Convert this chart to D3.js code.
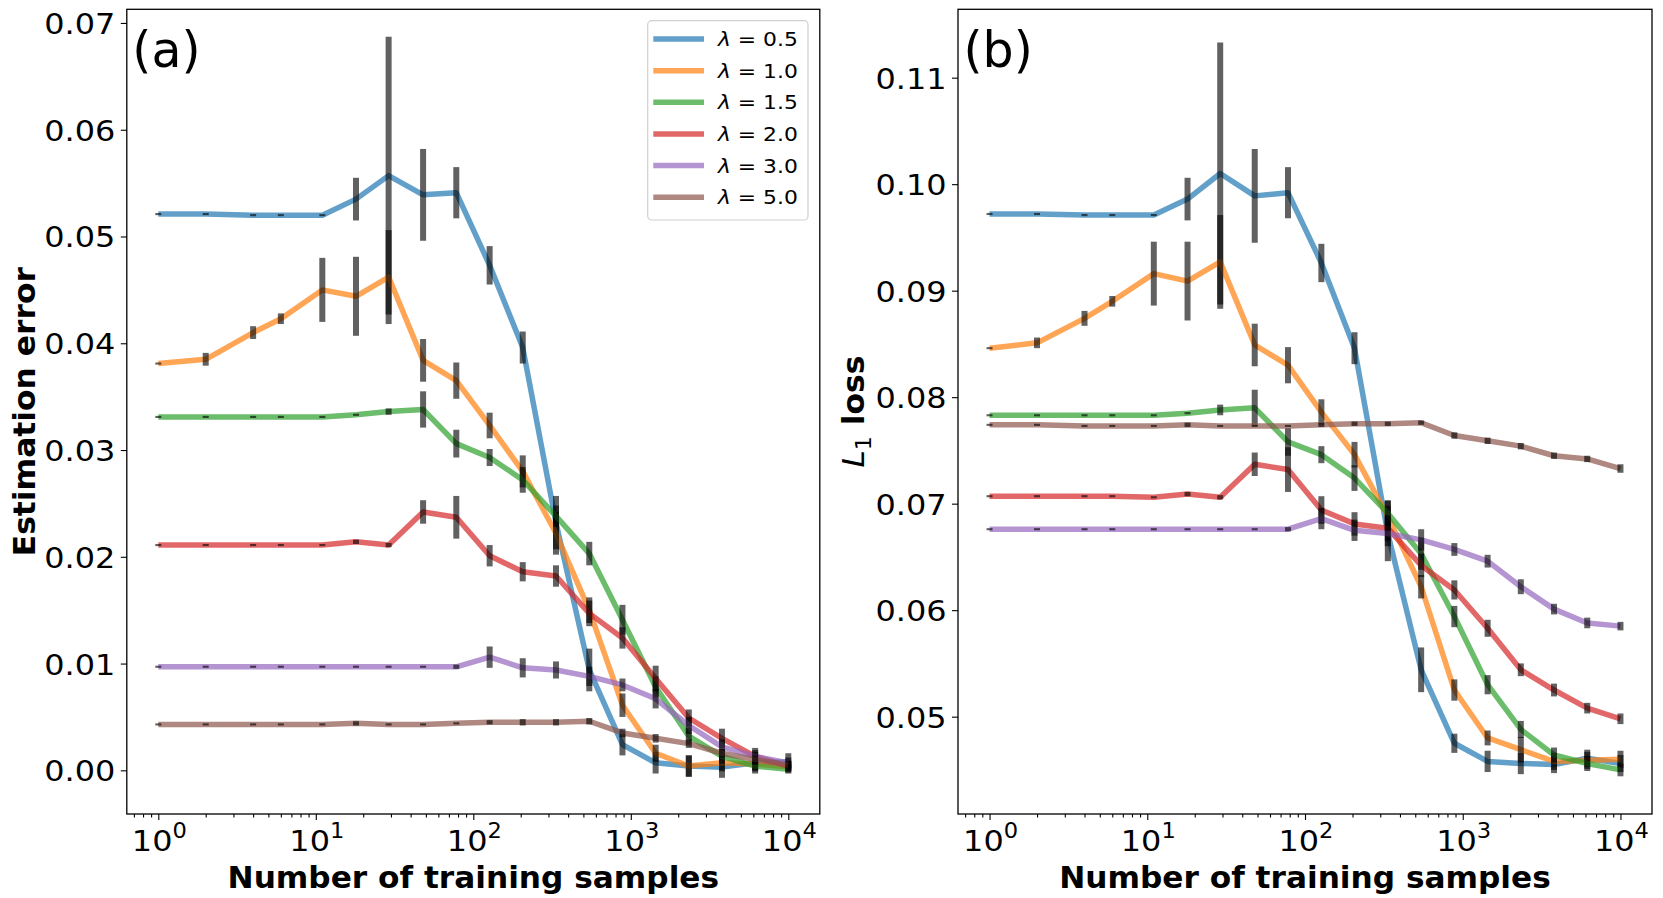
<!DOCTYPE html>
<meta charset="utf-8">
<style>
  body { margin: 0; background: white; }
  text { font-family: "DejaVu Sans", sans-serif; fill: black; }
  .ticklab { font-size: 29px; }
  .axlab { font-size: 30px; font-weight: bold; text-anchor: middle; }
  .leg { font-size: 19.5px; }
</style>
<script src="https://d3js.org/d3.v7.min.js" charset="utf-8"></script>
<body>
<script>

  var W = 1663, H = 898;
  var sx = 1.1;   // the reference text is a little wider than it is tall

  // training sample sizes (x values)
  var samples = [1, 2, 4, 6, 11, 18, 29, 48, 78, 127, 206, 335, 545, 885, 1438, 2335, 3792, 6158, 10000];
  var lambdas = ["0.5", "1.0", "1.5", "2.0", "3.0", "5.0"];
  var colors = ["#1f77b4", "#ff7f0e", "#2ca02c", "#d62728", "#9467bd", "#8c564b"];
  var xMajor = [1, 10, 100, 1000, 10000];
  var xMajorExp = ["0", "1", "2", "3", "4"];
  var yTicksA = [0.00, 0.01, 0.02, 0.03, 0.04, 0.05, 0.06, 0.07];
  var yTicksB = [0.05, 0.06, 0.07, 0.08, 0.09, 0.10, 0.11];

  // (a) estimation error, mean and std per lambda
  var estMean05 = [0.0521,0.0521,0.0520,0.0520,0.0520,0.0535,0.0557,0.0539,0.0541,0.0473,0.0396,0.0232,0.0094,0.0024,0.0007,0.0004,0.0003,0.0007,0.0008];
  var estStd05  = [0.0001,0.0001,0.0001,0.0001,0.0001,0.0020,0.0130,0.0043,0.0024,0.0018,0.0015,0.0025,0.0020,0.0010,0.0010,0.0010,0.0010,0.0010,0.0008];
  var estMean10 = [0.0381,0.0385,0.0410,0.0423,0.0450,0.0444,0.0462,0.0384,0.0365,0.0323,0.0280,0.0222,0.0150,0.0061,0.0016,0.0004,0.0007,0.0006,0.0003];
  var estStd10  = [0.0001,0.0006,0.0006,0.0005,0.0030,0.0037,0.0044,0.0020,0.0017,0.0012,0.0015,0.0020,0.0012,0.0011,0.0008,0.0010,0.0008,0.0006,0.0005];
  var estMean15 = [0.0331,0.0331,0.0331,0.0331,0.0331,0.0333,0.0336,0.0338,0.0306,0.0293,0.0272,0.0238,0.0203,0.0141,0.0078,0.0032,0.0013,0.0004,0.0001];
  var estStd15  = [0.0001,0.0001,0.0001,0.0001,0.0001,0.0001,0.0003,0.0017,0.0013,0.0008,0.0012,0.0010,0.0011,0.0014,0.0010,0.0008,0.0007,0.0005,0.0004];
  var estMean20 = [0.0211,0.0211,0.0211,0.0211,0.0211,0.0214,0.0211,0.0242,0.0237,0.0201,0.0186,0.0182,0.0147,0.0124,0.0086,0.0049,0.0030,0.0013,0.0004];
  var estStd20  = [0.0001,0.0001,0.0001,0.0001,0.0001,0.0002,0.0002,0.0011,0.0020,0.0010,0.0009,0.0010,0.0012,0.0010,0.0012,0.0008,0.0009,0.0008,0.0005];
  var estMean30 = [0.0097,0.0097,0.0097,0.0097,0.0097,0.0097,0.0097,0.0097,0.0097,0.0106,0.0096,0.0094,0.0088,0.0080,0.0067,0.0042,0.0022,0.0013,0.0007];
  var estStd30  = [0.0001,0.0001,0.0001,0.0001,0.0001,0.0001,0.0001,0.0001,0.0002,0.0010,0.0009,0.0008,0.0009,0.0006,0.0009,0.0008,0.0007,0.0006,0.0005];
  var estMean50 = [0.0043,0.0043,0.0043,0.0043,0.0043,0.0044,0.0043,0.0043,0.0044,0.0045,0.0045,0.0045,0.0046,0.0035,0.0030,0.0025,0.0016,0.0010,0.0005];
  var estStd50  = [0.0001,0.0001,0.0001,0.0001,0.0001,0.0002,0.0001,0.0001,0.0001,0.0002,0.0003,0.0003,0.0003,0.0004,0.0004,0.0004,0.0004,0.0004,0.0004];

  // (b) L1 loss, mean and std per lambda
  var l1Mean05 = [0.0972,0.0972,0.0971,0.0971,0.0971,0.0986,0.1010,0.0989,0.0992,0.0926,0.0846,0.0672,0.0544,0.0475,0.0458,0.0456,0.0455,0.0461,0.0456];
  var l1Std05  = [0.0001,0.0001,0.0001,0.0001,0.0001,0.0020,0.0123,0.0044,0.0024,0.0018,0.0015,0.0026,0.0021,0.0009,0.0010,0.0010,0.0008,0.0008,0.0008];
  var l1Mean10 = [0.0846,0.0851,0.0874,0.0890,0.0916,0.0909,0.0927,0.0849,0.0830,0.0786,0.0746,0.0688,0.0622,0.0525,0.0480,0.0469,0.0458,0.0459,0.0460];
  var l1Std10  = [0.0001,0.0005,0.0007,0.0005,0.0030,0.0037,0.0044,0.0020,0.0017,0.0012,0.0012,0.0015,0.0011,0.0010,0.0007,0.0012,0.0008,0.0008,0.0008];
  var l1Mean15 = [0.0783,0.0783,0.0783,0.0783,0.0783,0.0785,0.0788,0.0790,0.0758,0.0746,0.0724,0.0691,0.0653,0.0594,0.0530,0.0488,0.0464,0.0456,0.0450];
  var l1Std15  = [0.0001,0.0001,0.0001,0.0001,0.0001,0.0001,0.0005,0.0017,0.0013,0.0008,0.0012,0.0012,0.0015,0.0010,0.0009,0.0008,0.0007,0.0007,0.0006];
  var l1Mean20 = [0.0707,0.0707,0.0707,0.0707,0.0706,0.0709,0.0706,0.0737,0.0732,0.0694,0.0681,0.0677,0.0642,0.0619,0.0583,0.0544,0.0525,0.0508,0.0498];
  var l1Std20  = [0.0001,0.0001,0.0001,0.0001,0.0001,0.0002,0.0002,0.0011,0.0021,0.0013,0.0011,0.0012,0.0011,0.0009,0.0008,0.0006,0.0006,0.0005,0.0005];
  var l1Mean30 = [0.0676,0.0676,0.0676,0.0676,0.0676,0.0676,0.0676,0.0676,0.0676,0.0686,0.0675,0.0672,0.0666,0.0657,0.0646,0.0622,0.0601,0.0588,0.0585];
  var l1Std30  = [0.0001,0.0001,0.0001,0.0001,0.0001,0.0001,0.0001,0.0001,0.0002,0.0010,0.0010,0.0012,0.0010,0.0006,0.0006,0.0007,0.0005,0.0005,0.0004];
  var l1Mean50 = [0.0774,0.0774,0.0773,0.0773,0.0773,0.0774,0.0773,0.0773,0.0773,0.0774,0.0775,0.0775,0.0776,0.0764,0.0759,0.0754,0.0745,0.0742,0.0733];
  var l1Std50  = [0.0001,0.0001,0.0001,0.0001,0.0001,0.0002,0.0001,0.0001,0.0001,0.0002,0.0002,0.0002,0.0002,0.0003,0.0003,0.0003,0.0003,0.0003,0.0004];

  var panels = [
    { left: 126.8, right: 819.8, yDomain: [-0.00409, 0.07128], yTicks: yTicksA, tag: "(a)", legend: true,
      means: [estMean05, estMean10, estMean15, estMean20, estMean30, estMean50],
      stds:  [estStd05, estStd10, estStd15, estStd20, estStd30, estStd50] },
    { left: 958, right: 1652, yDomain: [0.04086, 0.11642], yTicks: yTicksB, tag: "(b)", legend: false,
      means: [l1Mean05, l1Mean10, l1Mean15, l1Mean20, l1Mean30, l1Mean50],
      stds:  [l1Std05, l1Std10, l1Std15, l1Std20, l1Std30, l1Std50] }
  ];

  var plotTop = 9.3, plotBottom = 814;

  var svg = d3.select("body").append("svg")
              .attr("width", W)
              .attr("height", H);

  // minor ticks for log axis
  var xMinor = [];
  for (var e = -1; e <= 4; e++) {
    for (var m = 2; m <= 9; m++) xMinor.push(m * Math.pow(10, e));
  }

  panels.forEach(function (p, pi) {
    var x = d3.scaleLog().domain([Math.pow(10, -0.2), Math.pow(10, 4.2)]).range([p.left, p.right]);
    var y = d3.scaleLinear().domain(p.yDomain).range([plotBottom, plotTop]);
    var g = svg.append("g");

    var line = d3.line()
                 .x(function (d, i) { return x(samples[i]); })
                 .y(function (d) { return y(d); });

    p.means.forEach(function (mean, si) {
      g.append("path")
       .attr("d", line(mean))
       .attr("fill", "none")
       .attr("stroke", colors[si])
       .attr("stroke-opacity", 0.7)
       .attr("stroke-width", 5.5)
       .attr("stroke-linejoin", "round");

      g.selectAll(null)
       .data(mean)
       .enter()
       .append("line")
       .attr("x1", function (d, i) { return x(samples[i]); })
       .attr("x2", function (d, i) { return x(samples[i]); })
       .attr("y1", function (d, i) { return y(d - p.stds[si][i]); })
       .attr("y2", function (d, i) { return y(d + p.stds[si][i]); })
       .attr("stroke", "black")
       .attr("stroke-opacity", 0.62)
       .attr("stroke-width", 6);
    });

    // frame
    g.append("rect")
     .attr("x", p.left).attr("y", plotTop)
     .attr("width", p.right - p.left).attr("height", plotBottom - plotTop)
     .attr("fill", "none").attr("stroke", "black").attr("stroke-width", 1.3);

    // x axis ticks
    var xAx = g.append("g").attr("transform", "translate(0," + plotBottom + ")")
               .call(d3.axisBottom(x).tickValues(xMajor).tickSize(6).tickFormat(""));
    var xAxMinor = g.append("g").attr("transform", "translate(0," + plotBottom + ")")
               .call(d3.axisBottom(x).tickValues(xMinor.filter(function (v) {
                 return x(v) >= p.left && x(v) <= p.right; })).tickSize(3.5).tickFormat(""));
    [xAx, xAxMinor].forEach(function (a) {
      a.select(".domain").remove();
      a.selectAll("line").attr("stroke", "black").attr("stroke-width", 1.1);
    });

    xMajor.forEach(function (v, i) {
      var t = g.append("text").attr("class", "ticklab")
               .attr("transform", "translate(" + (x(v) + 1) + ",851) scale(" + sx + ",1)")
               .attr("text-anchor", "middle");
      t.append("tspan").text("10");
      t.append("tspan").attr("dy", -13).style("font-size", "20.5px").text(xMajorExp[i]);
    });

    // y axis
    var yAx = g.append("g").attr("transform", "translate(" + p.left + ",0)")
               .call(d3.axisLeft(y).tickValues(p.yTicks).tickSize(6).tickPadding(5)
               .tickFormat(d3.format(".2f")));
    yAx.select(".domain").remove();
    yAx.selectAll("line").attr("stroke", "black").attr("stroke-width", 1.1);
    yAx.attr("font-family", null).attr("font-size", null);
    yAx.selectAll("text").attr("class", "ticklab")
       .attr("x", -11.5 / sx)
       .attr("transform", "scale(" + sx + ",1)")
       .attr("dy", "0.36em");

    // axis labels
    var cx = (p.left + p.right) / 2;
    g.append("text").attr("class", "axlab")
     .attr("transform", "translate(" + cx + ",888) scale(1.04,1)")
     .text("Number of training samples");

    var cy = (plotTop + plotBottom) / 2;
    if (pi === 0) {
      g.append("text").attr("class", "axlab")
       .attr("transform", "translate(34.5," + cy + ") rotate(-90) scale(1.045,1)")
       .text("Estimation error");
    } else {
      var yl = g.append("text").attr("class", "axlab")
       .attr("transform", "translate(864," + cy + ") rotate(-90) scale(1.045,1)");
      yl.append("tspan").style("font-style", "italic").style("font-weight", "normal").text("L");
      yl.append("tspan").attr("dy", 7).style("font-weight", "normal").style("font-size", "21px").text("1");
      yl.append("tspan").attr("dy", -7).text(" loss");
    }

    // panel tag
    g.append("text").attr("x", p.left + 5.5).attr("y", 67)
     .style("font-size", "49px").text(p.tag);

    // legend
    if (p.legend) {
      var lg = g.append("g");
      lg.append("rect")
        .attr("x", 647.7).attr("y", 20.7).attr("width", 160.3).attr("height", 199.3)
        .attr("rx", 4).attr("fill", "white").attr("fill-opacity", 0.8)
        .attr("stroke", "#d0d0d0").attr("stroke-width", 1.2);
      lambdas.forEach(function (lam, i) {
        var ry = 39 + i * 31.65;
        lg.append("line")
          .attr("x1", 653.3).attr("x2", 704).attr("y1", ry).attr("y2", ry)
          .attr("stroke", colors[i]).attr("stroke-opacity", 0.7).attr("stroke-width", 5.5);
        var t = lg.append("text").attr("class", "leg")
                  .attr("transform", "translate(718," + (ry + 7) + ") scale(1.12,1)");
        t.append("tspan").style("font-style", "italic").text("λ");
        t.append("tspan").text(" = " + lam);
      });
    }
  });

</script>
</body>
